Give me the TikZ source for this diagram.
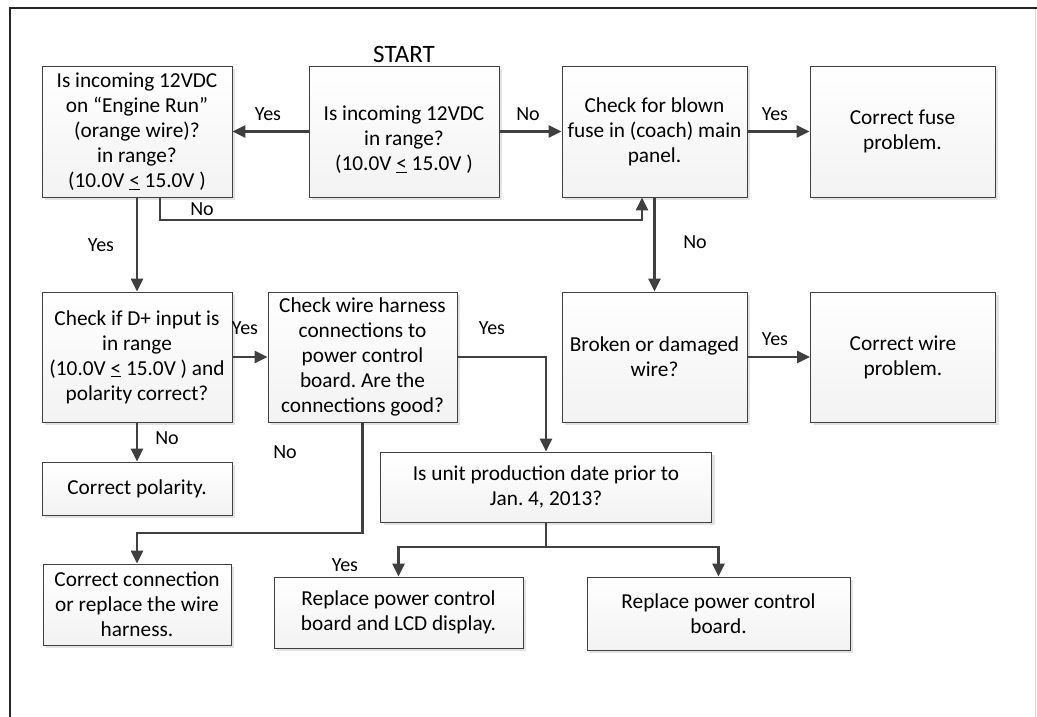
\documentclass[tikz,border=0pt]{standalone}
\usepackage{fontspec}
\setmainfont{Carlito}
\frenchspacing
\usetikzlibrary{arrows.meta,shadows}
\definecolor{boxline}{HTML}{404040}
\definecolor{conncol}{HTML}{404040}
\definecolor{framecol}{HTML}{262626}
\begin{document}
\begin{tikzpicture}[x=1pt,y=-1pt,
  box/.style={draw=boxline, line width=0.9pt, top color=white, bottom color=gray!10,
    drop shadow={shadow xshift=3pt,shadow yshift=-3pt,fill=gray!22,opacity=1},
    inner sep=0pt, align=center, font=\fontsize{21.3}{25}\selectfont},
  txt/.style={inner sep=0pt, align=center, font=\fontsize{21.3}{25}\selectfont},
  conn/.style={draw=conncol, line width=2.4pt, -{Triangle[length=13pt,width=12pt]}},
  lbl/.style={font=\fontsize{20}{24}\selectfont, inner sep=0pt}]
\useasboundingbox (0,0) rectangle (1037,717);
\fill[white] (0,0) rectangle (1037,717);
% frame
\draw[gray!30, line width=1pt] (1035.5,8) -- (1035.5,717);
\draw[framecol, line width=2pt] (10,717) -- (10,8) -- (1037,8);

\node[font=\fontsize{25}{30}\selectfont, inner sep=0pt] (start) at (404,54) {START};

% row 1
\node[box, minimum width=190pt, minimum height=131pt] (b1) at (137,131.5)
  {Is incoming 12VDC\\on “Engine Run”\\(orange wire)?\\in range?\\(10.0V \underline{<} 15.0V )};
\node[box, minimum width=190pt, minimum height=131pt] (b2) at (404,131.5) {};
\node[txt] (b2t) at (404,140) {Is incoming 12VDC\\in range?\\(10.0V \underline{<} 15.0V )};
\node[box, minimum width=185pt, minimum height=131pt] (b3) at (654.5,131.5)
  {Check for blown\\fuse in (coach) main\\panel.};
\node[box, minimum width=185pt, minimum height=131pt] (b4) at (902.5,131.5)
  {Correct fuse\\problem.};

% row 2
\node[box, minimum width=190pt, minimum height=130pt] (b5) at (137,357)
  {Check if D+ input is\\in range\\(10.0V \underline{<} 15.0V ) and\\polarity correct?};
\node[box, minimum width=189pt, minimum height=130pt] (b6) at (362.5,357)
  {Check wire harness\\connections to\\power control\\board. Are the\\connections good?};
\node[box, minimum width=185pt, minimum height=130pt] (b7) at (654.5,357)
  {Broken or damaged\\wire?};
\node[box, minimum width=185pt, minimum height=130pt] (b8) at (903,357)
  {Correct wire\\problem.};

% row 3
\node[box, minimum width=190pt, minimum height=53pt] (b9) at (137,488.5)
  {Correct polarity.};
\node[box, minimum width=331pt, minimum height=70pt] (b10) at (546,487)
  {Is unit production date prior to\\Jan. 4, 2013?};

% row 4
\node[box, minimum width=188pt, minimum height=81pt] (b11) at (137,604.5)
  {Correct connection\\or replace the wire\\harness.};
\node[box, minimum width=249pt, minimum height=71pt] (b12) at (398.5,612.5)
  {Replace power control\\board and LCD display.};
\node[box, minimum width=263pt, minimum height=73pt] (b13) at (718.5,613.5)
  {Replace power control\\board.};

% helper points
\coordinate (n1) at (160,220);
\coordinate (n2) at (642,220);
\coordinate (y1) at (546,357);
\coordinate (n4) at (137,533);
\coordinate (j) at (546,547);

% connectors
\draw[conn] (b2.west) -- (b1.east);
\draw[conn] (b2.east) -- (b3.west);
\draw[conn] (b3.east) -- (b4.west);
\draw[conn] (b1.south -| n1) -- (n1) -- (n2) -- (b3.south -| n2);
\draw[conn] (b1.south) -- (b5.north);
\draw[conn] (b3.south) -- (b7.north);
\draw[conn] (b5.east) -- (b6.west);
\draw[conn] (b7.east) -- (b8.west);
\draw[conn] (b6.east) -- (y1) -- (b10.north);
\draw[conn] (b5.south) -- (b9.north);
\draw[conn] (b6.south) |- (n4) -- (b11.north);
\draw[conn] (b10.south) -- (j) -| (b12.north);
\draw[conn] (j) -| (b13.north);

% labels
\node[lbl] (l1) at (268,114) {Yes};
\node[lbl] (l2) at (528,114) {No};
\node[lbl] (l3) at (775,114) {Yes};
\node[lbl] (l4) at (202,209) {No};
\node[lbl] (l5) at (101,245) {Yes};
\node[lbl] (l6) at (695,242) {No};
\node[lbl] (l7) at (245,328) {Yes};
\node[lbl] (l8) at (492,328) {Yes};
\node[lbl] (l9) at (775,339) {Yes};
\node[lbl] (l10) at (167,438) {No};
\node[lbl] (l11) at (285,452) {No};
\node[lbl] (l12) at (345,565) {Yes};
\end{tikzpicture}
\end{document}
